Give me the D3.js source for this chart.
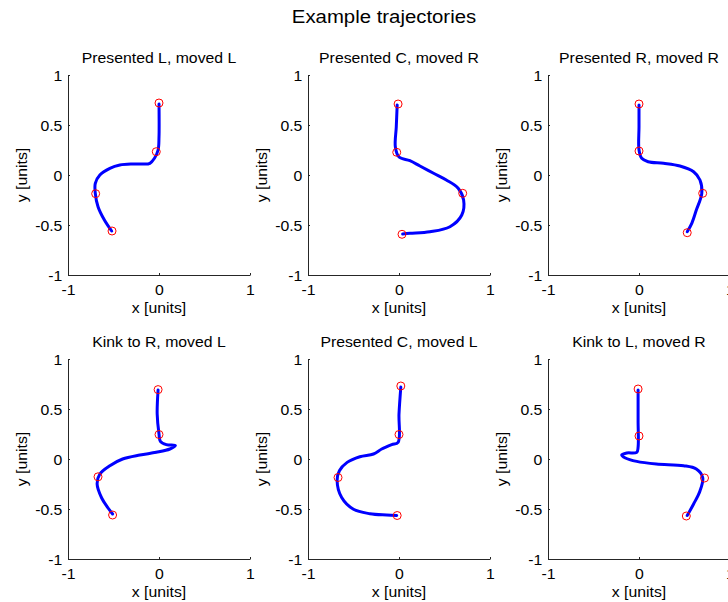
<!DOCTYPE html>
<html>
<head>
<meta charset="utf-8">
<script src="https://cdn.jsdelivr.net/npm/d3@7"></script>
<style>
  html, body { margin: 0; padding: 0; background: #fff; }
  svg { display: block; font-family: "Liberation Sans", Arial, Helvetica, sans-serif; }
</style>
</head>
<body>
<svg id="chart" width="728" height="602"></svg>
<script>
// ---- data -------------------------------------------------------------
const figureTitle = "Example trajectories";
const panelTitles = [
  "Presented L, moved L", "Presented C, moved R", "Presented R, moved R",
  "Kink to R, moved L", "Presented C, moved L", "Kink to L, moved R"
];
const xTicks = [-1, 0, 1];
const yTicks = [-1, -0.5, 0, 0.5, 1];
const xLabel = "x [units]";
const yLabel = "y [units]";

// hand trajectories, [x, y] in units
const pathPresLMovedL = [[0.0,0.71],[0.0,0.38],[-0.01,0.25],[-0.05,0.167],[-0.10,0.117],[-0.18,0.11],[-0.29,0.11],[-0.43,0.10],[-0.54,0.067],[-0.65,0.0],[-0.70,-0.083],[-0.70,-0.183],[-0.67,-0.317],[-0.60,-0.45],[-0.52,-0.56]];
const pathPresCMovedR = [[-0.02,0.70],[-0.03,0.48],[-0.04,0.28],[0.0,0.18],[0.12,0.143],[0.23,0.09],[0.38,0.017],[0.52,-0.05],[0.65,-0.133],[0.71,-0.25],[0.69,-0.40],[0.56,-0.517],[0.34,-0.567],[0.12,-0.583],[0.04,-0.59]];
const pathPresRMovedR = [[0.0,0.70],[0.0,0.48],[0.0,0.25],[0.03,0.167],[0.10,0.133],[0.27,0.117],[0.45,0.09],[0.60,0.033],[0.67,-0.05],[0.69,-0.183],[0.63,-0.35],[0.58,-0.483],[0.53,-0.567]];
const pathKinkRMovedL = [[-0.01,0.69],[-0.02,0.45],[0.0,0.25],[0.015,0.177],[0.08,0.144],[0.18,0.134],[0.12,0.10],[-0.03,0.067],[-0.21,0.04],[-0.40,0.0],[-0.54,-0.067],[-0.65,-0.15],[-0.68,-0.25],[-0.63,-0.39],[-0.56,-0.49],[-0.51,-0.55]];
const pathPresCMovedL = [[0.02,0.72],[0.0,0.45],[-0.01,0.167],[-0.08,0.144],[-0.19,0.10],[-0.28,0.05],[-0.43,0.023],[-0.57,-0.034],[-0.655,-0.118],[-0.68,-0.218],[-0.63,-0.386],[-0.50,-0.503],[-0.32,-0.547],[-0.135,-0.56],[-0.025,-0.565]];
const pathKinkLMovedR = [[-0.01,0.69],[-0.01,0.386],[-0.01,0.117],[-0.025,0.067],[-0.135,0.06],[-0.19,0.04],[-0.15,0.01],[-0.025,-0.024],[0.19,-0.05],[0.49,-0.067],[0.63,-0.10],[0.70,-0.185],[0.67,-0.32],[0.60,-0.45],[0.53,-0.565]];

// event markers on each trajectory, [x, y]
const marksPresLMovedL = [[0.0,0.72],[-0.03,0.233],[-0.696,-0.187],[-0.516,-0.56]];
const marksPresCMovedR = [[-0.01,0.71],[-0.025,0.227],[0.70,-0.183],[0.033,-0.593]];
const marksPresRMovedR = [[0.0,0.71],[0.0,0.24],[0.70,-0.183],[0.53,-0.577]];
const marksKinkRMovedL = [[-0.01,0.694],[0.0,0.245],[-0.67,-0.178],[-0.51,-0.56]];
const marksPresCMovedL = [[0.02,0.73],[0.0,0.245],[-0.67,-0.185],[-0.02,-0.565]];
const marksKinkLMovedR = [[-0.01,0.70],[0.0,0.23],[0.72,-0.19],[0.52,-0.57]];

const paths = [pathPresLMovedL, pathPresCMovedR, pathPresRMovedR, pathKinkRMovedL, pathPresCMovedL, pathKinkLMovedR];
const marks = [marksPresLMovedL, marksPresCMovedR, marksPresRMovedR, marksKinkRMovedL, marksPresCMovedL, marksKinkLMovedR];

// ---- layout -----------------------------------------------------------
const colLeft = [68, 308, 548];
const rowTop = [75, 359];
const plotW = 182, plotH = 200;
const axisColor = "#262626";
const fontPx = 14, stretch = 1.13;

const svg = d3.select("#chart");

// horizontally stretched text helper
function label(g, x, y, str, size, anchor, sx, rotate) {
  const t = g.append("text")
    .attr("transform", `translate(${x},${y})` + (rotate ? ` rotate(${rotate})` : "") + ` scale(${sx},1)`)
    .attr("text-anchor", anchor)
    .attr("font-size", size)
    .attr("fill", "#000")
    .text(str);
  return t;
}

label(svg, 384, 23, figureTitle, 18.5, "middle", 1.1);

const line = d3.line().curve(d3.curveCatmullRom.alpha(0.5));

panelTitles.forEach((title, i) => {
  const r = Math.floor(i / 3), c = i % 3;
  const left = colLeft[c], top = rowTop[r];
  const x = d3.scaleLinear().domain([-1, 1]).range([0, plotW]);
  const y = d3.scaleLinear().domain([-1, 1]).range([plotH, 0]);
  const g = svg.append("g").attr("transform", `translate(${left},${top})`);

  // axes
  const xa = g.append("g").attr("transform", `translate(0,${plotH})`)
    .call(d3.axisBottom(x).tickValues(xTicks).tickSize(-2).tickSizeOuter(0).tickFormat(d => String(d)));
  const ya = g.append("g")
    .call(d3.axisLeft(y).tickValues(yTicks).tickSize(-2).tickSizeOuter(0).tickFormat(d => String(d)));
  [xa, ya].forEach(a => {
    a.select(".domain").attr("stroke", axisColor).attr("stroke-width", 1);
    a.selectAll(".tick line").attr("stroke", axisColor);
    a.selectAll(".tick text").attr("font-size", fontPx).attr("fill", "#000")
      .attr("font-family", null);
  });
  xa.selectAll(".tick text").attr("y", 20).attr("dy", 0)
    .attr("transform", `scale(${stretch},1)`);
  ya.selectAll(".tick text").attr("x", -5.6 / stretch).attr("dy", "0.36em")
    .attr("transform", `scale(${stretch},1)`);
  xa.attr("font-family", null); ya.attr("font-family", null);

  // titles and axis labels
  label(g, plotW / 2, -12, title, fontPx, "middle", stretch);
  label(g, plotW / 2, plotH + 38, xLabel, fontPx, "middle", stretch);
  label(g, -41, plotH / 2, yLabel, fontPx, "middle", stretch, -90);

  // trajectory
  g.append("path")
    .datum(paths[i].map(p => [x(p[0]), y(p[1])]))
    .attr("d", line)
    .attr("fill", "none")
    .attr("stroke", "#0000ff")
    .attr("stroke-width", 3)
    .attr("stroke-linecap", "round")
    .attr("stroke-linejoin", "round");

  // event markers
  g.selectAll("circle.mark").data(marks[i]).join("circle")
    .attr("class", "mark")
    .attr("cx", d => x(d[0]))
    .attr("cy", d => y(d[1]))
    .attr("r", 4)
    .attr("fill", "none")
    .attr("stroke", "#ff0000")
    .attr("stroke-width", 1);
});
</script>
</body>
</html>
